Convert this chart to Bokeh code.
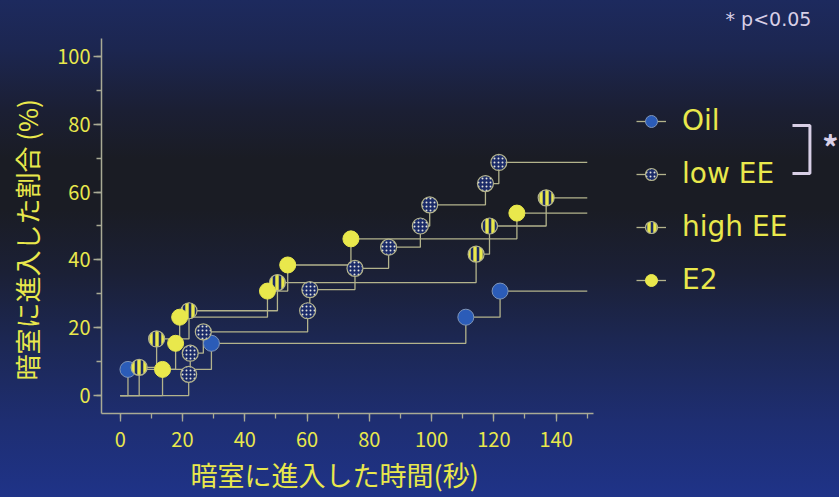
from bokeh.plotting import figure
from bokeh.models import (Range1d, SingleIntervalTicker, Legend, LegendItem,
                          Label, Title, InlineStyleSheet)
from bokeh.embed import file_html
from bokeh.resources import INLINE

# Time (s) at which each animal entered the dark room, and the cumulative
# percentage of the group that had entered by then.
oil_t = [2.5, 29.3, 111.0, 122.0]
oil_pct = [7.7, 15.4, 23.1, 30.8]

lowee_t = [22.0, 22.5, 26.7, 60.2, 60.9, 75.4, 86.2, 96.4, 99.4, 117.3, 121.6]
lowee_pct = [6.25, 12.5, 18.75, 25.0, 31.25, 37.5, 43.75, 50.0, 56.25, 62.5, 68.75]

highee_t = [6.1, 11.7, 22.1, 50.5, 114.3, 118.6, 136.8]
highee_pct = [8.3, 16.7, 25.0, 33.3, 41.7, 50.0, 58.3]

e2_t = [13.6, 17.8, 19.1, 47.3, 53.8, 74.1, 127.4]
e2_pct = [7.7, 15.4, 23.1, 30.8, 38.5, 46.2, 53.8]

group_names = ["Oil", "low EE", "high EE", "E2"]
x_ticks_step = 20
y_ticks_step = 20
t_end = 150

YELLOW = "#e9e84c"
LINE = "#b3b38c"
AXIS = "#a9aa95"
OIL_BLUE = "#2b5cb8"
NAVY = "#1b2b68"
LAV = "#d8cfe6"
FONT = "Noto Sans CJK JP"

# The frame reaches the right and top edges of the canvas so that the legend
# and the significance notes can sit inside it; the axes are bounded to the
# data region.
p = figure(width=839, height=497, output_backend="svg", toolbar_location=None,
           x_range=Range1d(-6, 231), y_range=Range1d(-5.3, 116.5),
           min_border_left=101, min_border_right=0,
           min_border_top=0, min_border_bottom=84)
p.background_fill_color = None
p.border_fill_color = None
p.outline_line_color = None
p.grid.visible = False
p.stylesheets = [InlineStyleSheet(css=""":host {
  background: linear-gradient(180deg, #1d2a5e 0%, #1c2650 10%, #1b1f34 22%,
              #1a1c24 32%, #1a1c24 42%, #1b2036 55%, #1c2752 68%,
              #1e2e72 85%, #1f3388 100%);
}""")]


def steps(t, pct):
    xs = [0] + list(t) + [t_end]
    ys = [0] + list(pct) + [pct[-1]]
    return xs, ys


marker_styles = [
    dict(fill_color=OIL_BLUE, line_color="#7f95b8", line_width=1),
    dict(fill_color=NAVY, line_color=LINE, line_width=1.2,
         hatch_pattern="dot", hatch_color="#e4e4dc", hatch_scale=4, hatch_weight=1.6),
    dict(fill_color=YELLOW, line_color=LINE, line_width=1.2,
         hatch_pattern="vertical_line", hatch_color=NAVY, hatch_scale=6, hatch_weight=2.6),
    dict(fill_color=YELLOW, line_color=YELLOW, line_width=1),
]
series = [(oil_t, oil_pct), (lowee_t, lowee_pct), (highee_t, highee_pct), (e2_t, e2_pct)]

line_renderers = []
for t, pct in series:
    xs, ys = steps(t, pct)
    line_renderers.append(p.step(xs, ys, mode="after", line_color=LINE, line_width=1.3))

marker_renderers = []
for (t, pct), style in zip(series, marker_styles):
    marker_renderers.append(p.scatter(t, pct, size=16, marker="circle", **style))

# axes
for ax in (p.xaxis[0], p.yaxis[0]):
    ax.axis_line_color = AXIS
    ax.axis_line_width = 1.5
    ax.major_tick_line_color = AXIS
    ax.minor_tick_line_color = AXIS
    ax.major_tick_line_width = 1.3
    ax.minor_tick_line_width = 1.3
    ax.major_tick_in = 0
    ax.major_tick_out = 8
    ax.minor_tick_in = 0
    ax.minor_tick_out = 5
    ax.major_label_text_color = YELLOW
    ax.major_label_text_font = FONT
    ax.major_label_text_font_size = "20px"

p.xaxis.bounds = (-6, 152)
p.yaxis.bounds = (-5.3, 105.3)
p.xaxis.ticker = SingleIntervalTicker(interval=x_ticks_step, num_minor_ticks=2)
p.yaxis.ticker = SingleIntervalTicker(interval=y_ticks_step, num_minor_ticks=2)
p.xaxis.major_label_standoff = 10
p.yaxis.major_label_standoff = 3

# axis titles, aligned to the bounded axes rather than the whole frame
title_style = dict(text_font=FONT, text_color=YELLOW, text_font_style="normal",
                   align="left")
p.add_layout(Title(text="暗室に進入した時間(秒)", offset=89, standoff=7,
                   text_font_size="27px", **title_style), "below")
p.add_layout(Title(text="暗室に進入した割合 (%)", offset=33, standoff=13.5,
                   vertical_align="top", text_font_size="26px", **title_style), "left")

legend = Legend(
    items=[LegendItem(label=name, renderers=[lr, mr])
           for name, lr, mr in zip(group_names, line_renderers, marker_renderers)],
    location=(535, 117), orientation="vertical",
    label_text_font="DejaVu Sans", label_text_font_size="28px",
    label_text_color=YELLOW,
    glyph_width=30, glyph_height=32, label_height=32, label_standoff=16,
    spacing=20, padding=0, border_line_color=None, background_fill_alpha=0,
)
p.add_layout(legend)

# significance bracket between Oil and low EE, and the note
p.line([215.9, 221.5, 221.5, 215.9], [79.6, 79.6, 65.5, 65.5],
       line_color=LAV, line_width=3)
p.add_layout(Label(x=228.1, y=73.7, text="*", text_color=LAV, text_font=FONT,
                   text_font_size="32px", text_font_style="bold",
                   text_align="center", text_baseline="middle"))
p.add_layout(Label(x=194.4, y=111.1, text="* p<0.05", text_color=LAV,
                   text_font="DejaVu Sans", text_font_size="19px",
                   text_baseline="middle"))

open("out.html", "w").write(file_html(p, INLINE))
